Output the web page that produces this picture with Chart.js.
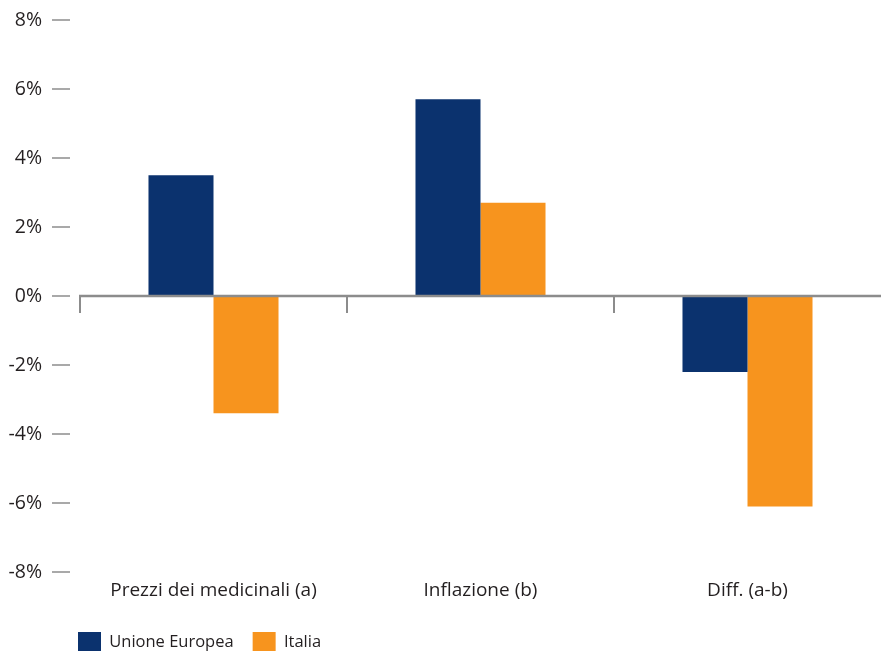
<!DOCTYPE html>
<html><head><meta charset="utf-8">
<script src="https://cdn.jsdelivr.net/npm/chart.js@4/dist/chart.umd.min.js"></script>
<style>html,body{margin:0;padding:0;background:#fff;overflow:hidden}</style>
</head><body>
<canvas id="c" width="881" height="651"></canvas>
<script>
const categories = ['Prezzi dei medicinali (a)', 'Inflazione (b)', 'Diff. (a-b)'];
const seriesNames = ['Unione Europea', 'Italia'];
const unioneEuropea = [3.5, 5.7, -2.2];
const italia = [-3.4, 2.7, -6.1];
const yTicks = [-8, -6, -4, -2, 0, 2, 4, 6, 8];

const FONT = '"Open Sans", Lato, sans-serif';
const TEXT = '#231f20';
const AXIS = '#8c8c8c';
const BOTTOM_PAD = -8;
const LEGEND_PAD = 19;

const axisMarks = {
  id: 'axisMarks',
  afterLayout(chart) {
    const lg = chart.legend;
    if (!lg) return;
    const dx = (78 - LEGEND_PAD) - lg.left;
    lg.left += dx; lg.right += dx;
    const dy = (632 - LEGEND_PAD) - lg.top;
    lg.top += dy; lg.bottom += dy;
  },
  afterDatasetsDraw(chart) {
    const {ctx, chartArea, scales: {x, y}} = chart;
    ctx.save();
    ctx.strokeStyle = AXIS;
    ctx.lineWidth = 1.5;
    yTicks.forEach(v => {
      const py = y.getPixelForValue(v);
      ctx.beginPath(); ctx.moveTo(52, py); ctx.lineTo(70, py); ctx.stroke();
    });
    const zy = y.getPixelForValue(0);
    const step = x.getPixelForValue(1) - x.getPixelForValue(0);
    ctx.lineWidth = 2;
    for (let i = 0; i < categories.length; i++) {
      const bx = x.getPixelForValue(i) - step / 2;
      ctx.beginPath(); ctx.moveTo(bx, zy); ctx.lineTo(bx, zy + 17); ctx.stroke();
    }
    ctx.lineWidth = 2.5;
    ctx.beginPath(); ctx.moveTo(chartArea.left - 1, zy); ctx.lineTo(chartArea.right, zy); ctx.stroke();
    ctx.restore();
  }
};

new Chart(document.getElementById('c'), {
  type: 'bar',
  data: {
    labels: categories,
    datasets: [
      {label: seriesNames[0], data: unioneEuropea, backgroundColor: '#0b326e'},
      {label: seriesNames[1], data: italia, backgroundColor: '#f7941e'}
    ]
  },
  options: {
    responsive: false,
    animation: false,
    devicePixelRatio: 1,
    layout: {padding: {top: 20, left: 0, right: 0, bottom: BOTTOM_PAD}},
    datasets: {bar: {categoryPercentage: 0.487, barPercentage: 1.0}},
    scales: {
      x: {
        grid: {display: false, drawTicks: false},
        border: {display: false},
        ticks: {color: TEXT, font: {family: FONT, size: 19}, padding: 7, maxRotation: 0},
        afterFit(scale) { scale.height = 651 - BOTTOM_PAD - 572 - (scale.chart.legend ? scale.chart.legend.height : 0); }
      },
      y: {
        min: -8, max: 8,
        grid: {display: false, drawTicks: false},
        border: {display: false},
        ticks: {stepSize: 2, color: TEXT, font: {family: FONT, size: 19.5}, padding: 38, callback: v => v + '%'},
        afterFit(scale) { scale.width = 80; scale.paddingTop = 0; scale.paddingBottom = 0; }
      }
    },
    plugins: {
      legend: {
        position: 'bottom', align: 'start',
        labels: {boxWidth: 23, boxHeight: 20, padding: LEGEND_PAD, color: TEXT, font: {family: FONT, size: 16.5}}
      },
      tooltip: {enabled: false}
    }
  },
  plugins: [axisMarks]
});
</script>
</body></html>
